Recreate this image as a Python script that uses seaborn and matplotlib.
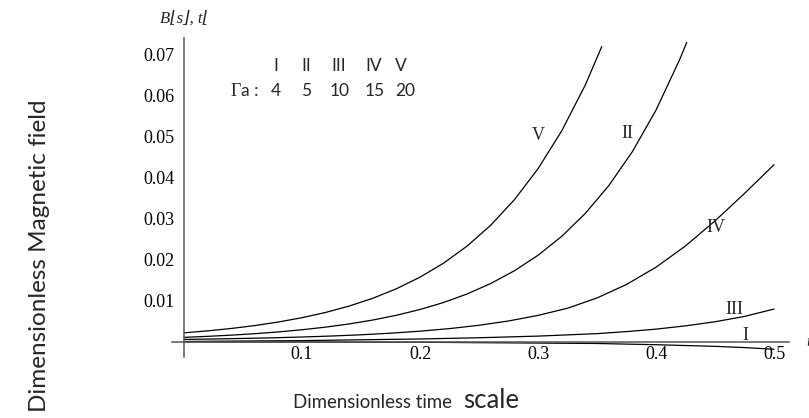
import numpy as np
import pandas as pd
import matplotlib
matplotlib.use("Agg")
import matplotlib.pyplot as plt
import seaborn as sns
from matplotlib.ticker import FixedLocator

# ---- data ----
t_V = [0.000, 0.020, 0.040, 0.060, 0.080, 0.100, 0.120, 0.140, 0.160, 0.180,
       0.200, 0.220, 0.240, 0.260, 0.280, 0.300, 0.320, 0.340, 0.354]
b_V = [0.00220, 0.00268, 0.00326, 0.00397, 0.00484, 0.00589, 0.00717, 0.00873,
       0.01063, 0.01295, 0.01577, 0.01920, 0.02338, 0.02847, 0.03467, 0.04222,
       0.05141, 0.06260, 0.07200]

t_II = [0.000, 0.020, 0.040, 0.060, 0.080, 0.100, 0.120, 0.140, 0.160, 0.180,
        0.200, 0.220, 0.240, 0.260, 0.280, 0.300, 0.320, 0.340, 0.360, 0.380,
        0.400, 0.420, 0.426]
b_II = [0.00110, 0.00134, 0.00163, 0.00199, 0.00242, 0.00295, 0.00359, 0.00437,
        0.00532, 0.00648, 0.00789, 0.00960, 0.01169, 0.01424, 0.01734, 0.02111,
        0.02571, 0.03130, 0.03811, 0.04641, 0.05652, 0.06882, 0.07300]

t_IV = [0.000, 0.025, 0.050, 0.075, 0.100, 0.125, 0.150, 0.175, 0.200, 0.225,
        0.250, 0.275, 0.300, 0.325, 0.350, 0.375, 0.400, 0.425, 0.450, 0.475, 0.500]
b_IV = [0.00060, 0.00070, 0.00083, 0.00098, 0.00118, 0.00142, 0.00172, 0.00211,
        0.00260, 0.00323, 0.00404, 0.00509, 0.00645, 0.00820, 0.01070, 0.01400,
        0.01820, 0.02340, 0.02950, 0.03620, 0.04320]

t_III = [0.000, 0.100, 0.200, 0.250, 0.300, 0.350, 0.375, 0.400, 0.425, 0.450, 0.475, 0.500]
b_III = [0.0001, 0.0003, 0.0007, 0.0010, 0.0014, 0.0020, 0.0025, 0.0031, 0.0039,
         0.0049, 0.0062, 0.0080]

t_I = [0.000, 0.100, 0.200, 0.300, 0.350, 0.400, 0.450, 0.475, 0.500]
b_I = [0.0000, -0.00005, -0.0001, -0.0003, -0.0004, -0.0007, -0.0011, -0.0014, -0.0018]

series_names = ["I", "II", "III", "IV", "V"]
gamma_values = ["4", "5", "10", "15", "20"]
x_ticks = [0.1, 0.2, 0.3, 0.4, 0.5]
x_tick_labels = ["0.1", "0.2", "0.3", "0.4", "0.5"]
y_ticks = [0.01, 0.02, 0.03, 0.04, 0.05, 0.06, 0.07]
y_tick_labels = ["0.01", "0.02", "0.03", "0.04", "0.05", "0.06", "0.07"]

frames = []
for name, tt, bb in [("I", t_I, b_I), ("II", t_II, b_II), ("III", t_III, b_III),
                     ("IV", t_IV, b_IV), ("V", t_V, b_V)]:
    frames.append(pd.DataFrame({"t": tt, "B": bb, "curve": name}))
df = pd.concat(frames, ignore_index=True)

# ---- style ----
sns.set_style("white")
plt.rcParams["font.family"] = ["Liberation Serif", "DejaVu Serif"]

fig = plt.figure(figsize=(8.09, 4.18), dpi=100)
ax = fig.add_axes([0.2126, 0.1459, 0.7627, 0.7632])

sns.lineplot(data=df, x="t", y="B", units="curve", estimator=None, sort=False,
             color="black", linewidth=0.9, ax=ax, legend=False)

ax.set_xlim(-0.0102, 0.5127)
ax.set_ylim(-0.0037, 0.0741)

# Mathematica-style axes crossing at origin
for side in ["top", "right"]:
    ax.spines[side].set_visible(False)
ax.spines["left"].set_position(("data", 0))
ax.spines["bottom"].set_position(("data", 0))
for side in ["left", "bottom"]:
    ax.spines[side].set_color("#555555")
    ax.spines[side].set_linewidth(1.1)

ax.xaxis.set_major_locator(FixedLocator(x_ticks))
ax.set_xticklabels(x_tick_labels)
ax.xaxis.set_minor_locator(FixedLocator([round(0.02 * i, 3) for i in range(1, 26) if i % 5 != 0]))
ax.yaxis.set_major_locator(FixedLocator(y_ticks))
ax.set_yticklabels(y_tick_labels)
ax.yaxis.set_minor_locator(FixedLocator([round(0.002 * i, 4) for i in range(-1, 37) if i % 5 != 0]))

ax.tick_params(axis="both", which="major", direction="in", length=4.5, width=0.8,
               color="#555555", labelsize=13, labelcolor="black")
ax.tick_params(axis="both", which="minor", direction="in", length=2.5, width=0.7,
               color="#555555")
ax.tick_params(axis="x", which="major", pad=3)
ax.tick_params(axis="y", which="major", pad=7)
ax.set_xlabel("")
ax.set_ylabel("")

# axis names
ax.text(0.0008, 0.0788, "B\u230As\u230B, t\u230A", fontsize=12, style="italic",
        ha="center", va="center", clip_on=False)
ax.text(0.529, 0.0000, "t", fontsize=12, style="italic", ha="center", va="center",
        clip_on=False)

# curve labels
curve_label_pos = {"V": (0.3005, 0.0502), "II": (0.3758, 0.0507), "IV": (0.4508, 0.0280),
                   "III": (0.4661, 0.0079), "I": (0.4760, 0.0016)}
for name, (xx, yy) in curve_label_pos.items():
    ax.text(xx, yy, name, fontsize=13, ha="center", va="center")

# in-plot legend table
sans = ["Lato", "DejaVu Sans"]
legend_x = [0.0776, 0.1033, 0.1310, 0.1605, 0.1835]
num_x = [0.0776, 0.1033, 0.1319, 0.1615, 0.1878]
for name, xx in zip(series_names, legend_x):
    ax.text(xx, 0.0672, name, fontsize=12.5, family=sans, ha="center", va="center")
for val, xx in zip(gamma_values, num_x):
    ax.text(xx, 0.0611, val, fontsize=12.5, family=sans, ha="center", va="center")
ax.text(0.0395, 0.0611, "\u0393", fontsize=13, family=["Liberation Serif"], ha="left", va="center")
ax.text(0.0480, 0.0611, "a :", fontsize=12.5, family=sans, ha="left", va="center")

# outer labels
fig.text(40 / 809, 1 - 256 / 418, "Dimensionless Magnetic field", rotation=90,
         fontsize=17.5, family=sans, ha="center", va="center")
fig.text(293 / 809, 1 - 402 / 418, "Dimensionless time", fontsize=13.4, family=sans,
         ha="left", va="center")
fig.text(463 / 809, 1 - 400 / 418, "scale", fontsize=18.5, family=sans,
         ha="left", va="center")

fig.savefig("out.png", dpi=100)
